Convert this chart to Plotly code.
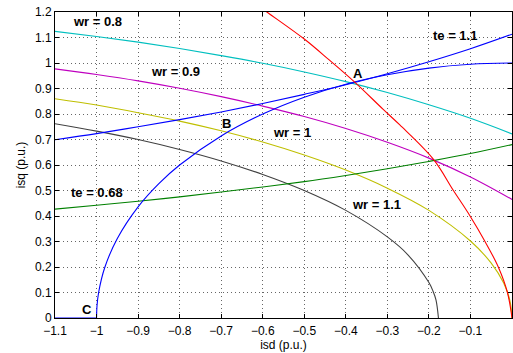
import plotly.graph_objects as go

# Current-plane operating curves of a PMSM (per-unit)

# Voltage-limit ellipses for several speeds
wr08_x = [-1.1, -1.0, -0.9, -0.8, -0.7, -0.6, -0.5, -0.4, -0.3, -0.2, -0.1, 0.0]
wr08_y = [1.124, 1.104, 1.082, 1.057, 1.029, 0.999, 0.965, 0.927, 0.884, 0.836, 0.783, 0.722]

wr09_x = [-1.1, -1.0, -0.9, -0.8, -0.7, -0.6, -0.5, -0.4, -0.3, -0.2, -0.1, 0.0]
wr09_y = [0.977, 0.955, 0.930, 0.901, 0.868, 0.831, 0.790, 0.743, 0.689, 0.627, 0.553, 0.465]

wr10_x = [-1.1, -1.0, -0.9, -0.8, -0.7, -0.6, -0.5, -0.4, -0.3, -0.2, -0.1, -0.05, -0.02, -0.005, 0.0]
wr10_y = [0.860, 0.835, 0.805, 0.772, 0.734, 0.690, 0.639, 0.580, 0.509, 0.422, 0.302, 0.215, 0.137, 0.068, 0.0]

wr11_x = [-1.1, -1.0, -0.9, -0.8, -0.7, -0.6, -0.5, -0.4, -0.3, -0.25, -0.2, -0.19, -0.183, -0.177]
wr11_y = [0.762, 0.733, 0.700, 0.661, 0.616, 0.563, 0.500, 0.422, 0.318, 0.247, 0.139, 0.105, 0.071, 0.0]

# Constant-torque curves
te11_x = [-1.1, -1.0, -0.9, -0.8, -0.7, -0.6, -0.5, -0.4, -0.3, -0.2, -0.1, 0.0]
te11_y = [0.699, 0.723, 0.750, 0.778, 0.808, 0.841, 0.877, 0.915, 0.958, 1.005, 1.056, 1.113]

te068_x = [-1.1, -1.0, -0.9, -0.8, -0.7, -0.6, -0.5, -0.4, -0.3, -0.2, -0.1, 0.0]
te068_y = [0.427, 0.442, 0.458, 0.475, 0.494, 0.514, 0.535, 0.559, 0.585, 0.614, 0.645, 0.680]

# Current-limit circle, with the isd axis segment up to point C
circ_x = [-1.0, -0.999, -0.995, -0.98, -0.95, -0.9, -0.85, -0.8, -0.7, -0.6, -0.5, -0.4, -0.3, -0.2, -0.1, 0.0]
circ_y = [0.0, 0.045, 0.100, 0.199, 0.312, 0.436, 0.527, 0.600, 0.714, 0.800, 0.866, 0.917, 0.954, 0.980, 0.995, 1.0]
base_x = [-1.1, -1.0]
base_y = [0.0, 0.0]

# Red operating curve through A
red_x = [-0.624, -0.59, -0.50, -0.44, -0.378, -0.31, -0.27, -0.189, -0.141, -0.101, -0.065, -0.033, -0.011, 0.0]
red_y = [1.24, 1.20, 1.094, 1.012, 0.924, 0.818, 0.757, 0.622, 0.500, 0.400, 0.300, 0.200, 0.100, 0.0]

x_ticks = [-1.1, -1.0, -0.9, -0.8, -0.7, -0.6, -0.5, -0.4, -0.3, -0.2, -0.1, 0.0]
x_ticktext = ["\u22121.1", "\u22121", "\u22120.9", "\u22120.8", "\u22120.7", "\u22120.6",
              "\u22120.5", "\u22120.4", "\u22120.3", "\u22120.2", "\u22120.1", "0"]
y_ticks = [0.0, 0.1, 0.2, 0.3, 0.4, 0.5, 0.6, 0.7, 0.8, 0.9, 1.0, 1.1, 1.2]
y_ticktext = ["0", "0.1", "0.2", "0.3", "0.4", "0.5", "0.6", "0.7", "0.8", "0.9", "1", "1.1", "1.2"]

labels = [
    ("wr = 0.8", -1.062, 1.161, "left"),
    ("wr = 0.9", -0.874, 0.968, "left"),
    ("A", -0.370, 0.959, "center"),
    ("te = 1.1", -0.196, 1.109, "left"),
    ("wr = 1", -0.581, 0.728, "left"),
    ("te = 0.68", -1.067, 0.492, "left"),
    ("C", -1.024, 0.033, "center"),
    ("wr = 1.1", -0.389, 0.446, "left"),
    ("B", -0.687, 0.763, "center"),
]

FONT = "Liberation Sans, Arial, sans-serif"

fig = go.Figure()

def add_curve(xs, ys, color, shape="spline"):
    fig.add_trace(go.Scatter(x=xs, y=ys, mode="lines",
                             line=dict(color=color, width=1.1, shape=shape),
                             hoverinfo="skip", showlegend=False))

add_curve(wr08_x, wr08_y, "rgb(0,191,191)")
add_curve(wr09_x, wr09_y, "rgb(191,0,191)")
add_curve(wr10_x, wr10_y, "rgb(191,191,0)")
add_curve(wr11_x, wr11_y, "rgb(64,64,64)")
add_curve(te068_x, te068_y, "rgb(0,128,0)")
add_curve(te11_x, te11_y, "rgb(0,0,255)")
add_curve(circ_x, circ_y, "rgb(0,0,255)")
add_curve(base_x, base_y, "rgb(0,0,255)", shape="linear")
add_curve(red_x, red_y, "rgb(255,0,0)")

for text, x, y, anchor in labels:
    fig.add_annotation(x=x, y=y, text="<b>" + text + "</b>", showarrow=False,
                       xanchor=anchor, yanchor="middle",
                       font=dict(family=FONT, size=13, color="black"))

axis_common = dict(
    showline=True, linecolor="black", linewidth=1, mirror="allticks",
    ticks="inside", ticklen=4, tickcolor="black",
    showgrid=True, gridcolor="rgba(0,0,0,0.6)", griddash="1px,3px", gridwidth=1,
    zeroline=False,
    tickfont=dict(family=FONT, size=12, color="black"),
)

fig.update_xaxes(range=[-1.1, 0.0], tickvals=x_ticks, ticktext=x_ticktext,
                 ticklabelstandoff=2,
                 title=dict(text="isd (p.u.)", standoff=3,
                            font=dict(family=FONT, size=12, color="black")),
                 **axis_common)
fig.update_yaxes(range=[0.0, 1.2], tickvals=y_ticks, ticktext=y_ticktext,
                 title=dict(text="isq (p.u.)", standoff=6,
                            font=dict(family=FONT, size=12, color="black")),
                 **axis_common)

fig.update_layout(
    width=513, height=353,
    margin=dict(l=55, r=1, t=12, b=35),
    paper_bgcolor="white", plot_bgcolor="white",
    font=dict(family=FONT, size=12, color="black"),
)

fig.write_html("out.html")
